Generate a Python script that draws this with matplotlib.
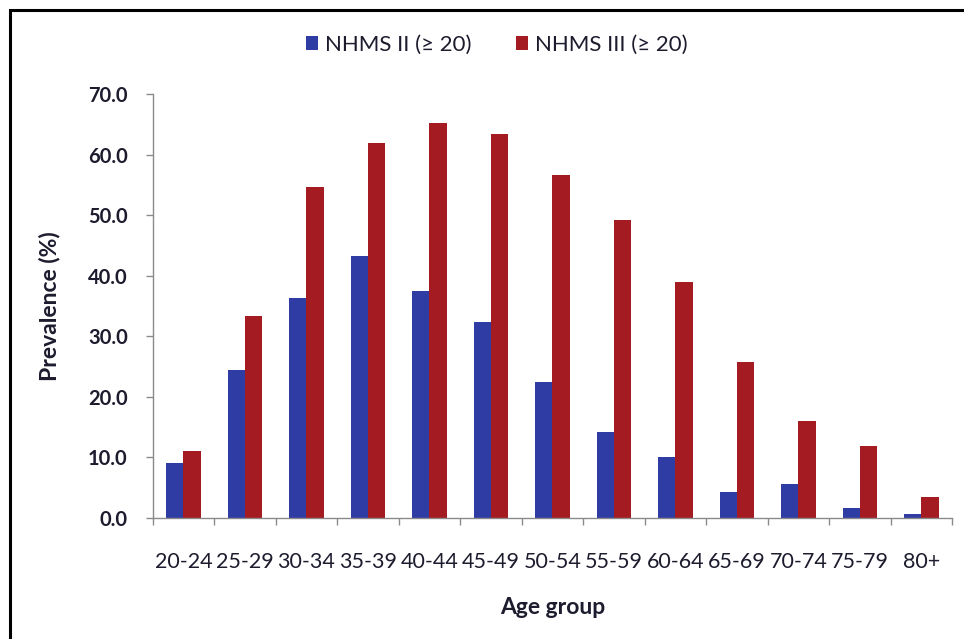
import matplotlib
matplotlib.use("Agg")
import matplotlib.pyplot as plt
from matplotlib.patches import Rectangle
import numpy as np

plt.rcParams['font.family'] = ['Lato', 'DejaVu Sans']

age_groups = ["20-24", "25-29", "30-34", "35-39", "40-44", "45-49", "50-54",
              "55-59", "60-64", "65-69", "70-74", "75-79", "80+"]
nhms2 = [9.0, 24.4, 36.4, 43.3, 37.5, 32.4, 22.5, 14.1, 10.0, 4.2, 5.5, 1.6, 0.6]
nhms3 = [11.0, 33.4, 54.6, 61.9, 65.2, 63.5, 56.6, 49.3, 39.0, 25.7, 16.0, 11.9, 3.4]
series_names = ["NHMS II (\u2265 20)", "NHMS III (\u2265 20)"]
y_ticks = [0, 10, 20, 30, 40, 50, 60, 70]

blue = "#2e3ca3"
red = "#a51b22"
text_dark = "#1c1c2e"
axis_grey = "#8a8a8a"

fig = plt.figure(figsize=(9.64, 6.39), dpi=100)
ax = fig.add_axes([0.1584, 0.1898, 0.8292, 0.6626])

x = np.arange(len(age_groups))
w = 0.28
ax.bar(x - w / 2, nhms2, width=w, color=blue, label=series_names[0], zorder=2)
ax.bar(x + w / 2, nhms3, width=w, color=red, label=series_names[1], zorder=2)

ax.set_xlim(-0.5, len(age_groups) - 0.5)
ax.set_ylim(0, 70)

# y axis
ax.set_yticks(y_ticks)
ax.set_yticklabels([f"{v:.1f}" for v in y_ticks], fontsize=14.5,
                   fontweight='bold', color=text_dark)
ax.tick_params(axis='y', direction='out', length=5, width=1, color=axis_grey, pad=13)

# x axis: ticks between categories, labels centred under each group
ax.set_xticks(np.arange(-0.5, len(age_groups)), minor=False)
ax.set_xticklabels([])
ax.set_xticks(x, minor=True)
ax.set_xticklabels(age_groups, minor=True, fontsize=15.5, color=text_dark)
ax.tick_params(axis='x', which='major', direction='out', length=5, width=1, color=axis_grey)
ax.tick_params(axis='x', which='minor', length=0, pad=25)

for side in ('top', 'right'):
    ax.spines[side].set_visible(False)
for side in ('left', 'bottom'):
    ax.spines[side].set_color(axis_grey)
    ax.spines[side].set_linewidth(1)

ax.set_ylabel("Prevalence (%)", fontsize=16.5, fontweight='bold', color=text_dark, labelpad=20)
ax.set_xlabel("Age group", fontsize=16.5, fontweight='bold', color=text_dark, labelpad=18)

leg = fig.legend(loc='center', bbox_to_anchor=(0.515, 0.930), ncol=2, frameon=False,
                 fontsize=16, handlelength=0.55, handleheight=0.55, handletextpad=0.3,
                 columnspacing=2.0)
for t in leg.get_texts():
    t.set_color(text_dark)

# outer frame around the chart
fig.patches.append(Rectangle((10 / 964, -0.05), 1.2, 629 / 639 + 0.05,
                             transform=fig.transFigure, fill=False,
                             edgecolor='black', linewidth=2.2, zorder=10))

fig.savefig("out.png", dpi=100, facecolor='white')
